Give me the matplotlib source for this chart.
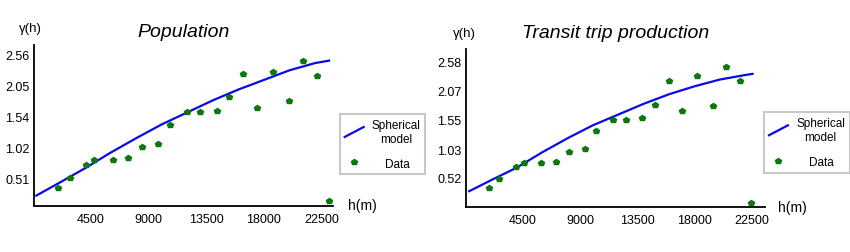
import matplotlib
matplotlib.use("Agg")
import matplotlib.pyplot as plt
from matplotlib.lines import Line2D
from matplotlib.legend_handler import HandlerLine2D

plt.rcParams['font.family'] = ['Liberation Sans', 'DejaVu Sans']

# ---- data ----
# Population
pop_h = [1950, 2820, 4130, 4760, 6200, 7380, 8480, 9690, 10630, 11970,
         13000, 14300, 15300, 16400, 17480, 18740, 20000, 21040, 22140, 23090]
pop_g = [0.35, 0.51, 0.73, 0.81, 0.81, 0.85, 1.03, 1.08, 1.40, 1.61,
         1.60, 1.63, 1.85, 2.24, 1.68, 2.28, 1.79, 2.45, 2.21, 0.13]
pop_model_h = [220, 2000, 4000, 6000, 8000, 10000, 12000, 14000, 16000, 18000, 20000, 22000, 23090]
pop_model_g = [0.22, 0.43, 0.67, 0.93, 1.17, 1.40, 1.60, 1.80, 1.98, 2.14, 2.30, 2.42, 2.46]
pop_yticks = [0.51, 1.02, 1.54, 2.05, 2.56]

# Transit trip production
tr_h = [1805, 2650, 3940, 4580, 5920, 7085, 8140, 9380, 10275, 11620,
        12625, 13890, 14870, 15975, 17030, 18220, 19485, 20460, 21570, 22460]
tr_g = [0.34, 0.50, 0.72, 0.78, 0.78, 0.81, 0.98, 1.03, 1.35, 1.55,
        1.55, 1.58, 1.81, 2.23, 1.70, 2.32, 1.79, 2.48, 2.24, 0.07]
tr_model_h = [277, 2000, 4000, 6000, 8000, 10000, 12000, 14000, 16000, 18000, 20000, 22000, 22570]
tr_model_g = [0.285, 0.48, 0.70, 0.97, 1.22, 1.45, 1.64, 1.83, 2.00, 2.14, 2.26, 2.34, 2.36]
tr_yticks = [0.52, 1.03, 1.55, 2.07, 2.58]

xticks = [4500, 9000, 13500, 18000, 22500]

LINE_C = '#0a0ae6'
DOT_C = '#0b780b'


class SlopedLine(HandlerLine2D):
    # legend handle drawn as a short rising line
    def create_artists(self, legend, orig_handle, xdescent, ydescent,
                       width, height, fontsize, trans):
        line = Line2D([-xdescent, -xdescent + width],
                      [-ydescent - 0.1 * height, -ydescent + 1.1 * height],
                      color=orig_handle.get_color(), lw=orig_handle.get_linewidth())
        line.set_transform(trans)
        return [line]


fig = plt.figure(figsize=(8.5, 2.53), dpi=100)


def panel(rect, title, title_y, h, g, mh, mg, yticks, ylim, xmax, leg_anchor, ylab_pos, xlab_pos):
    ax = fig.add_axes(rect)
    model, = ax.plot(mh, mg, color=LINE_C, lw=1.6, label='Spherical\nmodel')
    data, = ax.plot(h, g, 'p', color=DOT_C, ms=3.8, label='    Data')
    ax.set_xlim(0, xmax)
    ax.set_ylim(*ylim)
    ax.set_xticks(xticks)
    ax.set_xticklabels([str(t) for t in xticks])
    ax.set_yticks(yticks)
    ax.set_yticklabels([f'{t:.2f}' for t in yticks])
    for s in ['top', 'right']:
        ax.spines[s].set_visible(False)
    for s in ['left', 'bottom']:
        ax.spines[s].set_linewidth(1.3)
    ax.tick_params(axis='x', length=0, pad=5, labelsize=9)
    ax.tick_params(axis='y', length=0, pad=3, labelsize=9)
    ax.text(0.5, title_y, title, transform=ax.transAxes, ha='center', va='center',
            fontsize=14, style='italic')
    ax.text(ylab_pos[0], ylab_pos[1], 'γ(h)', transform=ax.transAxes,
            ha='center', va='center', fontsize=9.5)
    ax.text(xlab_pos[0], xlab_pos[1], 'h(m)', transform=ax.transAxes,
            ha='center', va='center', fontsize=10)
    leg = fig.legend(handles=[model, data], loc='upper left', bbox_to_anchor=leg_anchor,
                     bbox_transform=fig.transFigure, fontsize=8.5, frameon=True,
                     fancybox=False, edgecolor='#c8c8c8', framealpha=1,
                     borderpad=0.4, handlelength=1.6, handletextpad=0.7,
                     labelspacing=1.1, borderaxespad=0,
                     handler_map={model: SlopedLine()})
    leg.get_frame().set_linewidth(1.5)
    for t in leg.get_texts():
        t.set_multialignment('center')
    return ax


panel([33.5 / 850, 46 / 253, 299.5 / 850, 161 / 253], 'Population', 1.082,
      pop_h, pop_g, pop_model_h, pop_model_g, pop_yticks, (0.047, 2.72), 23400,
      (340 / 850, 1 - 115 / 253), (-0.01, 1.105), (1.098, 0.006))

panel([465.7 / 850, 44.7 / 253, 299.3 / 850, 158.3 / 253], 'Transit trip production', 1.107,
      tr_h, tr_g, tr_model_h, tr_model_g, tr_yticks, (0.0, 2.80), 23550,
      (764.3 / 850, 1 - 113.3 / 253), (-0.005, 1.101), (1.092, 0.0))

fig.savefig('out.png', dpi=100)
